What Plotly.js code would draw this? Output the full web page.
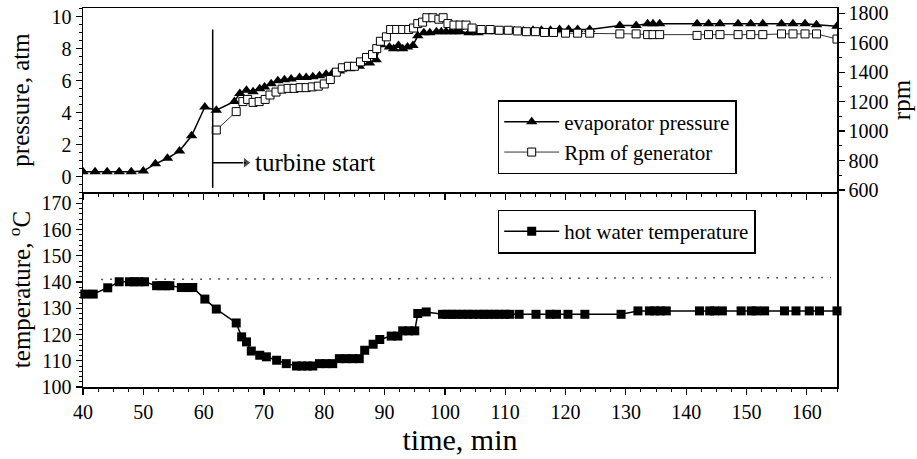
<!DOCTYPE html>
<html>
<head>
<meta charset="utf-8">
<script src="https://cdn.plot.ly/plotly-3.0.1.min.js"></script>
<style>html,body{margin:0;padding:0;background:#fff;}#chart{width:917px;height:459px;}</style>
</head>
<body>
<div id="chart"></div>
<script>
// Evaporator pressure (atm)
const pressTime = [40,42,44,46,48,50,52,54,56,58,60.2,62.1,65.1,66.0,67.1,68.2,69.3,70.1,71.2,72.3,73.4,74.5,75.9,77.0,78.1,79.2,80.3,81.4,82.5,84.2,85.8,87.5,88.6,89.3,90.8,91.5,92.3,93.0,93.8,94.7,95.5,96.5,97.5,98.6,99.4,100.2,101.0,101.8,102.5,104,105.5,107,108.5,110,111.5,113,114.6,116,117.5,119,120.5,122,124,129,131.7,133.6,134.5,135.6,141.8,143.7,145.6,148.6,150.7,152.7,155.8,157.7,159.7,161.6,165];
const pressVal = [0.3,0.3,0.3,0.3,0.3,0.35,0.8,1.15,1.6,2.55,4.35,4.15,4.7,5.2,5.4,5.3,5.5,5.6,5.8,6.0,6.05,6.1,6.2,6.2,6.25,6.3,6.4,6.5,6.6,6.75,6.9,7.1,7.3,8.25,8.1,8.0,8.2,8.0,8.1,8.2,8.8,9.0,9.0,9.05,9.05,9.05,9.05,9.05,9.05,9.0,9.0,9.05,9.05,9.05,9.1,9.1,9.15,9.15,9.15,9.2,9.2,9.2,9.2,9.45,9.45,9.55,9.55,9.55,9.55,9.55,9.55,9.55,9.55,9.55,9.55,9.55,9.55,9.5,9.4];

// Generator speed (rpm)
const rpmTime = [62.1,65.4,66.5,67.3,68.2,69.2,70.2,71.0,72.0,73.0,74.0,75.0,76.0,77.0,78.0,79.0,80.0,81.0,82.0,83.0,84.0,85.0,86.0,87.0,88.0,88.7,89.3,90.3,91.0,92.0,93.0,94.0,94.8,95.5,96.3,97.0,98.0,99.0,99.7,100.5,101.5,102.5,103.5,104.5,106,107.5,109,110.5,112,113.5,115,116.5,118,120,122,124,129,131.7,133.6,134.5,135.6,141.8,143.7,145.6,148.6,150.7,152.7,155.8,157.7,159.7,161.6,165];
const rpmVal = [1007,1132,1200,1215,1195,1200,1215,1245,1265,1285,1290,1290,1295,1295,1300,1305,1320,1350,1400,1430,1440,1440,1470,1500,1520,1560,1610,1640,1690,1690,1690,1690,1700,1730,1740,1770,1770,1760,1770,1730,1720,1720,1720,1700,1690,1690,1685,1685,1680,1675,1675,1670,1670,1665,1665,1665,1660,1660,1655,1655,1655,1650,1655,1655,1655,1655,1655,1660,1660,1660,1660,1625];

// Hot water temperature (°C)
const hwTime = [40.3,41.7,44.1,46.0,47.7,48.5,49.3,50.2,52.2,53.0,53.7,54.4,56.3,57.0,57.7,58.2,60.2,62.1,65.4,66.3,67.1,67.9,69.3,70.4,72.1,73.7,75.4,76.3,77.2,78.1,79.2,80.3,81.4,82.5,83.6,84.7,85.8,86.7,88.1,89.2,91.1,92.2,93.0,94.0,95.0,95.5,96.9,99.6,100.4,101.2,102.0,102.9,103.8,104.6,105.7,106.5,107.3,108.2,109.0,109.9,110.7,112.3,115.1,117.4,118.5,120.4,123.2,129.2,132.0,133.9,134.8,135.7,136.7,142.2,143.9,144.7,146.0,149.1,150.8,151.6,153.0,156.3,158.2,160.4,162.1,165];
const hwVal = [135.4,135.4,137.8,140.1,140.1,140.1,140.1,140.1,138.6,138.6,138.6,138.6,137.9,137.9,137.9,137.9,133.5,129.7,124.4,119.1,117.2,113.7,112.1,111.5,110.2,108.9,108.0,108.0,108.0,108.0,108.9,108.9,108.9,110.8,110.8,110.8,110.8,114.0,116.3,118.1,119.4,119.4,121.4,121.4,121.4,128.0,128.6,127.7,127.7,127.7,127.7,127.7,127.7,127.7,127.7,127.7,127.7,127.7,127.7,127.7,127.7,127.7,127.7,127.7,127.7,127.7,127.7,127.7,129.0,129.0,129.0,129.0,129.0,129.0,129.0,129.0,129.0,129.0,129.0,129.0,129.0,129.0,129.0,129.0,129.0,129.0];

// Dotted reference line in lower panel
const dotTime = [43, 100, 164];
const dotVal = [141.0, 141.3, 141.7];

// Turbine start marker (time, min) and arrow
const turbineStart = 61.5;
const arrowTime = [61.5, 67.0];
const arrowLevel = [0.87, 0.87];

const FONT = 'Liberation Serif, Times New Roman, serif';

const traces = [
  {x: pressTime, y: pressVal, xaxis: 'x2', yaxis: 'y', type: 'scatter', mode: 'lines+markers',
   name: 'evaporator pressure', legend: 'legend',
   line: {color: '#000', width: 1.5},
   marker: {symbol: 'triangle-up', size: 10, color: '#000'}},
  {x: rpmTime, y: rpmVal, xaxis: 'x2', yaxis: 'y3', type: 'scatter', mode: 'lines+markers',
   name: 'Rpm of generator', legend: 'legend',
   line: {color: '#333', width: 1},
   marker: {symbol: 'square', size: 8, color: '#fff', line: {color: '#000', width: 1}}},
  {x: arrowTime, y: arrowLevel, xaxis: 'x2', yaxis: 'y', type: 'scatter', mode: 'lines+markers',
   showlegend: false, hoverinfo: 'skip',
   line: {color: '#000', width: 1.5},
   marker: {symbol: ['circle', 'triangle-right'], size: [0, 10], color: '#000'}},
  {x: dotTime, y: dotVal, xaxis: 'x', yaxis: 'y2', type: 'scatter', mode: 'lines',
   showlegend: false, hoverinfo: 'skip',
   line: {color: '#555', width: 1.5, dash: '2px,7px'}},
  {x: hwTime, y: hwVal, xaxis: 'x', yaxis: 'y2', type: 'scatter', mode: 'lines+markers',
   name: 'hot water temperature', legend: 'legend2', cliponaxis: false,
   line: {color: '#000', width: 1.5},
   marker: {symbol: 'square', size: 9, color: '#000'}}
];

const tickfont = {family: FONT, size: 20, color: '#000'};
const titlefont = {family: FONT, size: 25, color: '#000'};

const layout = {
  width: 917, height: 459,
  margin: {l: 83, r: 80, t: 8, b: 72},
  paper_bgcolor: '#fff', plot_bgcolor: '#fff',
  font: {family: FONT, color: '#000'},
  xaxis: {
    anchor: 'y2', domain: [0, 1], range: [40, 165],
    showgrid: false, zeroline: false,
    showline: true, linecolor: '#000', linewidth: 1.5,
    ticks: 'outside', ticklen: 6, tickwidth: 1.2, tickcolor: '#000', dtick: 10, tick0: 0,
    minor: {dtick: 2.5, ticks: 'outside', ticklen: 3, tickcolor: '#000', tickwidth: 1},
    tickfont: tickfont,
    title: {text: 'time, min', font: {family: FONT, size: 30, color: '#000'}, standoff: 3}
  },
  xaxis2: {
    anchor: 'y', matches: 'x', range: [40, 165],
    showgrid: false, zeroline: false, showticklabels: false,
    showline: true, mirror: true, linecolor: '#000', linewidth: 1.5,
    ticks: 'outside', ticklen: 6, tickwidth: 1.2, tickcolor: '#000', dtick: 10, tick0: 0,
    minor: {dtick: 2.5, ticks: 'outside', ticklen: 3, tickcolor: '#000', tickwidth: 1}
  },
  yaxis: {
    anchor: 'x2', domain: [0.5145, 1], range: [-0.96, 10.54],
    showgrid: false, zeroline: false,
    showline: true, linecolor: '#000', linewidth: 1.5,
    ticks: 'outside', ticklen: 6, tickwidth: 1.2, tickcolor: '#000', dtick: 2, tick0: 0,
    minor: {dtick: 0.5, ticks: 'outside', ticklen: 3, tickcolor: '#000', tickwidth: 1},
    tickfont: tickfont,
    title: {text: 'pressure, atm', font: titlefont, standoff: 14}
  },
  yaxis2: {
    anchor: 'x', domain: [0, 0.5145], range: [100, 174.3],
    showgrid: false, zeroline: false,
    showline: true, mirror: true, linecolor: '#000', linewidth: 1.5,
    ticks: 'outside', ticklen: 6, tickwidth: 1.2, tickcolor: '#000', dtick: 10, tick0: 0,
    minor: {dtick: 2, ticks: 'outside', ticklen: 3, tickcolor: '#000', tickwidth: 1},
    tickfont: tickfont,
    title: {text: 'temperature, <sup>o</sup>C', font: titlefont, standoff: 3}
  },
  yaxis3: {
    overlaying: 'y', side: 'right', anchor: 'x2', range: [586, 1836],
    showgrid: false, zeroline: false,
    showline: true, linecolor: '#000', linewidth: 1.5,
    ticks: 'outside', ticklen: 6, tickwidth: 1.2, tickcolor: '#000', dtick: 200, tick0: 0,
    minor: {dtick: 100, ticks: 'outside', ticklen: 3, tickcolor: '#000', tickwidth: 1},
    tickfont: tickfont,
    title: {text: 'rpm', font: titlefont, standoff: 4}
  },
  legend: {
    x: 0.55, y: 0.757, xanchor: 'left', yanchor: 'top',
    bgcolor: '#fff', bordercolor: '#000', borderwidth: 1.5,
    font: {family: FONT, size: 21, color: '#000'},
    itemwidth: 55, tracegroupgap: 0
  },
  legend2: {
    x: 0.55, y: 0.468, xanchor: 'left', yanchor: 'top',
    bgcolor: '#fff', bordercolor: '#000', borderwidth: 1.5,
    font: {family: FONT, size: 21, color: '#000'},
    itemwidth: 55
  },
  shapes: [
    {type: 'line', xref: 'x2', yref: 'y', x0: turbineStart, x1: turbineStart, y0: -0.7, y1: 9.2,
     line: {color: '#000', width: 1.5}}
  ],
  annotations: [
    {xref: 'x2', yref: 'y', x: 68.2, y: 0.87, xanchor: 'left', yanchor: 'middle', showarrow: false,
     text: 'turbine start', font: {family: FONT, size: 25, color: '#000'}}
  ],
  showlegend: true
};

Plotly.newPlot('chart', traces, layout, {displayModeBar: false, staticPlot: true});
</script>
</body>
</html>
